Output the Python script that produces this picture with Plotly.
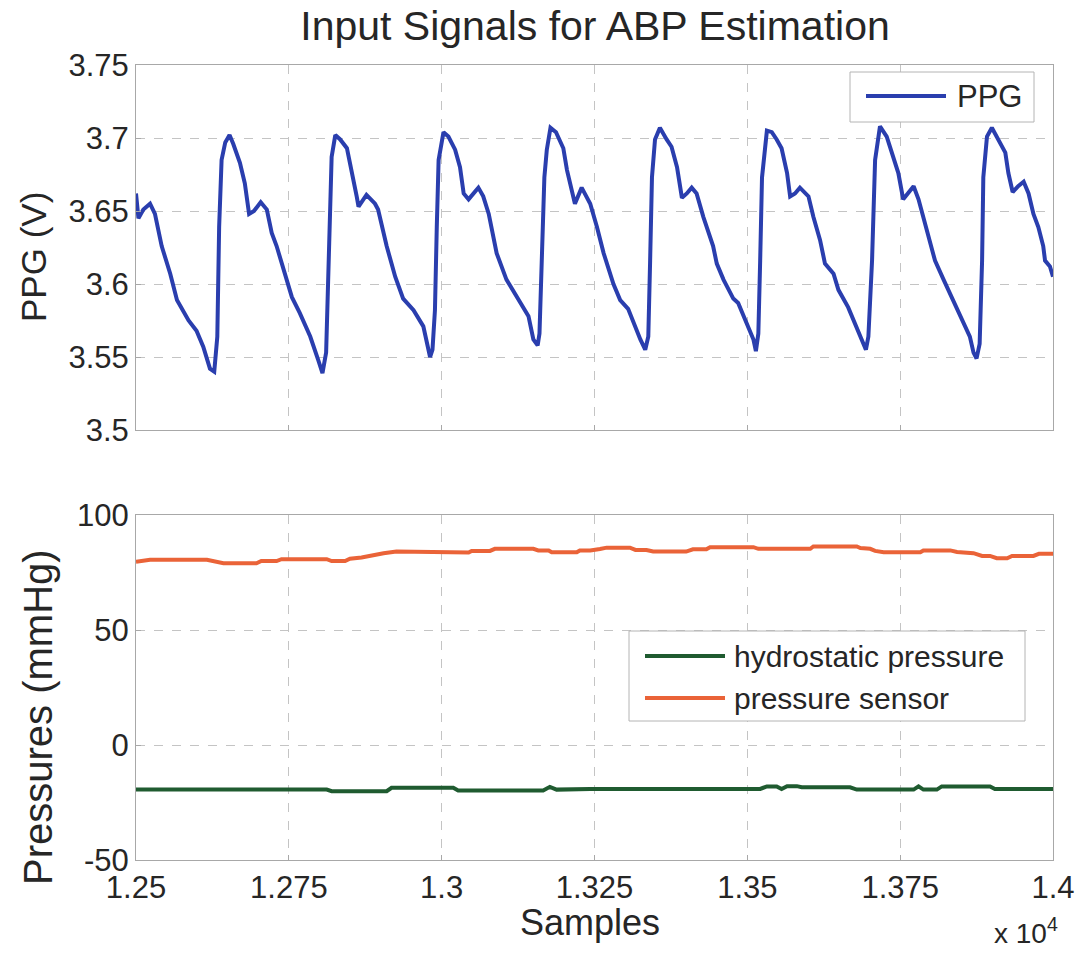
import plotly.graph_objects as go

# ---------------- data ----------------
ppg_samples = [12500, 12504, 12512, 12523, 12531, 12542, 12556, 12567, 12586, 12599, 12610, 12621, 12628,
               12633, 12636, 12640, 12646, 12653, 12659, 12670, 12678, 12685, 12693, 12704, 12714, 12722,
               12730, 12747, 12755, 12768, 12785, 12798, 12805, 12811, 12815, 12817, 12820, 12826, 12834,
               12845, 12853, 12861, 12864, 12877, 12891, 12896, 12910, 12924, 12937, 12954, 12970, 12981,
               12985, 12989, 12992, 12995, 13003, 13011, 13022, 13030, 13036, 13044, 13060, 13068, 13077,
               13090, 13106, 13125, 13142, 13150, 13157, 13160, 13164, 13168, 13172, 13178, 13187, 13199,
               13205, 13218, 13229, 13237, 13243, 13254, 13265, 13281, 13292, 13305, 13314, 13325, 13333,
               13338, 13341, 13344, 13349, 13357, 13368, 13376, 13385, 13393, 13401, 13409, 13417, 13428,
               13444, 13450, 13461, 13477, 13485, 13499, 13510, 13514, 13518, 13521, 13524, 13532, 13540,
               13548, 13556, 13565, 13570, 13578, 13586, 13600, 13608, 13619, 13627, 13641, 13649, 13665,
               13676, 13687, 13694, 13698, 13704, 13709, 13717, 13728, 13739, 13747, 13755, 13763, 13772,
               13780, 13788, 13799, 13807, 13821, 13837, 13853, 13864, 13870, 13875, 13880, 13884, 13886,
               13892, 13900, 13911, 13922, 13927, 13934, 13943, 13952, 13960, 13968, 13976, 13984, 13987,
               13995, 14000]
ppg_values = [3.662, 3.645, 3.651, 3.655, 3.648, 3.626, 3.607, 3.589, 3.575, 3.568, 3.557, 3.542, 3.540,
              3.564, 3.639, 3.685, 3.697, 3.702, 3.696, 3.683, 3.669, 3.648, 3.650, 3.656, 3.651, 3.635,
              3.626, 3.603, 3.591, 3.580, 3.564, 3.548, 3.539, 3.553, 3.616, 3.662, 3.687, 3.702, 3.699,
              3.693, 3.678, 3.660, 3.653, 3.661, 3.655, 3.651, 3.626, 3.605, 3.590, 3.582, 3.571, 3.550,
              3.555, 3.582, 3.639, 3.685, 3.704, 3.701, 3.692, 3.680, 3.662, 3.658, 3.666, 3.660, 3.648,
              3.621, 3.603, 3.590, 3.578, 3.562, 3.558, 3.566, 3.616, 3.673, 3.692, 3.707, 3.704, 3.693,
              3.678, 3.655, 3.666, 3.660, 3.655, 3.639, 3.621, 3.600, 3.589, 3.583, 3.573, 3.562, 3.555,
              3.564, 3.616, 3.673, 3.699, 3.707, 3.699, 3.694, 3.680, 3.659, 3.662, 3.666, 3.662, 3.646,
              3.626, 3.614, 3.603, 3.590, 3.587, 3.573, 3.562, 3.554, 3.566, 3.616, 3.673, 3.705, 3.704,
              3.699, 3.693, 3.676, 3.660, 3.662, 3.666, 3.660, 3.646, 3.630, 3.614, 3.607, 3.596, 3.584,
              3.573, 3.562, 3.555, 3.564, 3.616, 3.685, 3.708, 3.701, 3.687, 3.676, 3.658, 3.662, 3.667,
              3.658, 3.646, 3.630, 3.616, 3.603, 3.589, 3.575, 3.564, 3.553, 3.549, 3.559, 3.616, 3.673,
              3.701, 3.707, 3.699, 3.690, 3.676, 3.663, 3.667, 3.670, 3.662, 3.648, 3.639, 3.626, 3.616,
              3.612, 3.605]

sensor_samples = [12500, 12523, 12616, 12627, 12643, 12697, 12705, 12730, 12738, 12812, 12820, 12842, 12850,
                  12869, 12888, 12905, 12926, 12992, 13000, 13044, 13049, 13079, 13087, 13150, 13158, 13175,
                  13180, 13221, 13226, 13243, 13259, 13270, 13308, 13317, 13335, 13346, 13400, 13411, 13433,
                  13439, 13510, 13518, 13603, 13608, 13679, 13685, 13701, 13709, 13723, 13783, 13788, 13832,
                  13843, 13870, 13884, 13897, 13908, 13925, 13933, 13968, 13977, 14000]
sensor_values = [79.7, 80.5, 80.5, 80.0, 79.0, 79.0, 80.0, 80.0, 80.8, 80.8, 80.0, 80.0, 81.0,
                 81.5, 82.6, 83.4, 84.1, 84.1, 83.7, 83.7, 84.4, 84.4, 85.3, 85.3, 84.6, 84.6,
                 83.8, 83.8, 84.6, 84.6, 85.2, 85.8, 85.8, 84.8, 84.8, 84.1, 84.1, 85.1, 85.1,
                 86.0, 86.0, 85.3, 85.3, 86.3, 86.3, 85.6, 85.3, 84.4, 83.8, 83.8, 84.6, 84.6,
                 83.9, 83.4, 82.2, 82.2, 81.2, 81.2, 82.2, 82.2, 83.1, 83.1]

hydro_samples = [12500, 12812, 12820, 12910, 12918, 13019, 13027, 13166, 13177, 13188, 13243, 13521, 13532,
                 13548, 13556, 13565, 13581, 13589, 13668, 13679, 13772, 13780, 13788, 13810, 13818, 13897,
                 13905, 14000]
hydro_values = [-19.4, -19.4, -20.1, -20.1, -18.6, -18.6, -19.8, -19.8, -18.2, -19.4, -19.1, -19.1, -18.0,
                -18.0, -19.1, -17.9, -17.9, -18.4, -18.4, -19.4, -19.4, -18.0, -19.4, -19.4, -18.0, -18.0,
                -19.1, -19.1]

x_tick_vals = [12500, 12750, 13000, 13250, 13500, 13750, 14000]
x_tick_text = ["1.25", "1.275", "1.3", "1.325", "1.35", "1.375", "1.4"]
ppg_ticks = [3.5, 3.55, 3.6, 3.65, 3.7, 3.75]
ppg_tick_text = ["3.5", "3.55", "3.6", "3.65", "3.7", "3.75"]
press_ticks = [-50, 0, 50, 100]
press_tick_text = ["-50", "0", "50", "100"]

legend_top = [("PPG", "#2a3eae")]
legend_bottom = [("hydrostatic pressure", "#1f5b30"), ("pressure sensor", "#ea6338")]

# ---------------- styling ----------------
W, H = 1083, 953
ML, MR, MT, MB = 136, 30, 65, 93
PW, PH = W - ML - MR, H - MT - MB
FONT = "Liberation Sans, Arial, sans-serif"
TXT = "#262626"
BLUE, GREEN, ORANGE = "#2a3eae", "#1f5b30", "#ea6338"
GRID = "#c4c4c4"
FRAME = "#a8a8a8"


def px(x):
    return (x - ML) / PW


def py(y):
    return (H - MB - y) / PH


fig = go.Figure()
fig.add_trace(go.Scatter(x=ppg_samples, y=ppg_values, mode="lines", name="PPG",
                         line=dict(color=BLUE, width=4), xaxis="x", yaxis="y"))
fig.add_trace(go.Scatter(x=hydro_samples, y=hydro_values, mode="lines", name="hydrostatic pressure",
                         line=dict(color=GREEN, width=4), xaxis="x2", yaxis="y2"))
fig.add_trace(go.Scatter(x=sensor_samples, y=sensor_values, mode="lines", name="pressure sensor",
                         line=dict(color=ORANGE, width=4), xaxis="x2", yaxis="y2"))

axis_common = dict(showline=True, mirror=True, linecolor=FRAME, linewidth=1,
                   showgrid=True, gridcolor=GRID, griddash="dash", gridwidth=1,
                   ticks="inside", ticklen=5, tickcolor=FRAME, zeroline=False, automargin=False,
                   tickfont=dict(family=FONT, size=31, color=TXT))

fig.update_layout(
    width=W, height=H,
    paper_bgcolor="white", plot_bgcolor="white",
    margin=dict(l=ML, r=MR, t=MT, b=MB),
    showlegend=False,
    title=dict(text="Input Signals for ABP Estimation", x=595 / W, xanchor="center",
               y=1 - 26 / H, yanchor="middle", font=dict(family=FONT, size=41, color=TXT)),
    xaxis=dict(domain=[0, 1], anchor="y", range=[12500, 14000], tickvals=x_tick_vals,
               showticklabels=False, **axis_common),
    yaxis=dict(domain=[py(430), 1], anchor="x", range=[3.5, 3.75], tickvals=ppg_ticks,
               ticktext=ppg_tick_text, **axis_common),
    xaxis2=dict(domain=[0, 1], anchor="y2", range=[12500, 14000], tickvals=x_tick_vals,
                ticktext=x_tick_text, **axis_common),
    yaxis2=dict(domain=[0, py(515)], anchor="x2", range=[-50, 100], tickvals=press_ticks,
                ticktext=press_tick_text, **axis_common),
)

# axis titles
fig.add_annotation(text="PPG (V)", xref="paper", yref="paper", x=px(34), y=py(257),
                   textangle=-90, showarrow=False, xanchor="center", yanchor="middle",
                   font=dict(family=FONT, size=35, color=TXT))
fig.add_annotation(text="Pressures (mmHg)", xref="paper", yref="paper", x=px(38), y=py(717),
                   textangle=-90, showarrow=False, xanchor="center", yanchor="middle",
                   font=dict(family=FONT, size=40, color=TXT))
fig.add_annotation(text="Samples", xref="paper", yref="paper", x=px(590), y=py(922),
                   showarrow=False, xanchor="center", yanchor="middle",
                   font=dict(family=FONT, size=36, color=TXT))
fig.add_annotation(text="x 10<sup>4</sup>", xref="paper", yref="paper", x=px(1060), y=py(951),
                   xanchor="right", yanchor="bottom", showarrow=False,
                   font=dict(family=FONT, size=28, color=TXT))


# manual legends (MATLAB-like boxes with long line samples)
def add_legend(box, items, line_x0, line_x1, text_x, rows_y, size):
    x0, y0, x1, y1 = box
    fig.add_shape(type="rect", xref="paper", yref="paper", x0=px(x0), x1=px(x1), y0=py(y1), y1=py(y0),
                  line=dict(color="#b4b4b4", width=1), fillcolor="white", layer="above")
    for (label, color), ry in zip(items, rows_y):
        fig.add_shape(type="line", xref="paper", yref="paper", x0=px(line_x0), x1=px(line_x1),
                      y0=py(ry), y1=py(ry), line=dict(color=color, width=4), layer="above")
        fig.add_annotation(text=label, xref="paper", yref="paper", x=px(text_x), y=py(ry),
                           xanchor="left", yanchor="middle", showarrow=False,
                           font=dict(family=FONT, size=size, color=TXT))


add_legend((850, 72, 1034, 122), legend_top, 866, 946, 955, [96], 31)
add_legend((629, 631, 1025, 721), legend_bottom, 645, 725, 732, [656, 698], 30)

fig.write_html("out.html", config={"displayModeBar": False},
               post_script="document.body.style.margin='0';")
